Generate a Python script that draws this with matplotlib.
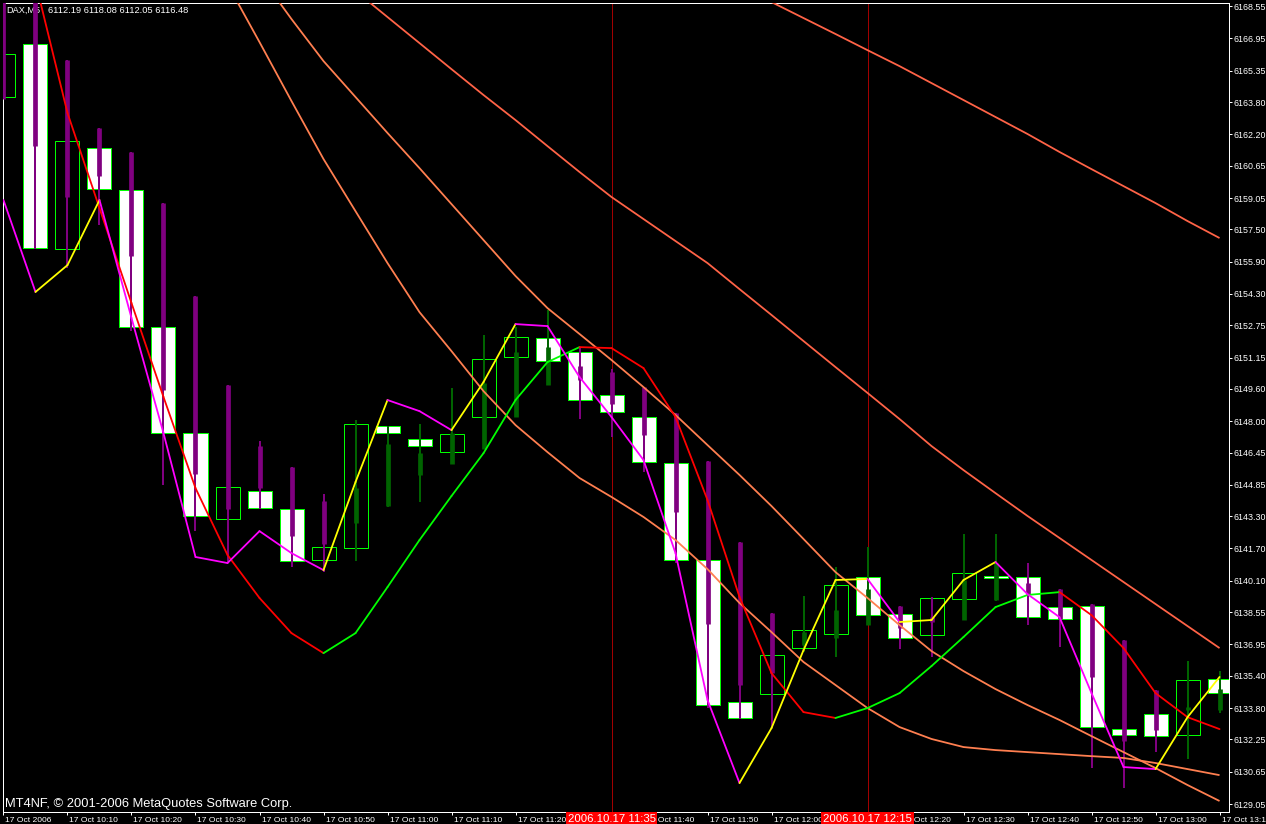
import matplotlib
matplotlib.use("Agg")
import matplotlib.pyplot as plt
import matplotlib.transforms as mtransforms
from matplotlib.patches import Rectangle
import numpy as np

# ---------------- data ----------------
symbol_title = "DAX,M5"
last_ohlc = "6112.19 6118.08 6112.05 6116.48"
copyright_text = "MT4NF, \u00a9 2001-2006 MetaQuotes Software Corp."

time_labels = ["17 Oct 2006", "17 Oct 10:10", "17 Oct 10:20", "17 Oct 10:30", "17 Oct 10:40",
               "17 Oct 10:50", "17 Oct 11:00", "17 Oct 11:10", "17 Oct 11:20", "17 Oct 11:30",
               "17 Oct 11:40", "17 Oct 11:50", "17 Oct 12:00", "17 Oct 12:10", "17 Oct 12:20",
               "17 Oct 12:30", "17 Oct 12:40", "17 Oct 12:50", "17 Oct 13:00", "17 Oct 13:10"]
time_label_bars = list(range(0, 39, 2))

marker_bars = [19, 27]
marker_labels = ["2006.10.17 11:35", "2006.10.17 12:15"]

price_ticks = [6168.55, 6166.95, 6165.35, 6163.80, 6162.20, 6160.65, 6159.05, 6157.50, 6155.90,
               6154.30, 6152.75, 6151.15, 6149.60, 6148.00, 6146.45, 6144.85, 6143.30, 6141.70,
               6140.10, 6138.55, 6136.95, 6135.40, 6133.80, 6132.25, 6130.65, 6129.05]

candle_open = [6164.05, 6166.67, 6156.52, 6161.52, 6159.44, 6152.66, 6147.41, 6143.16, 6144.54, 6143.65,
               6141.13, 6141.72, 6147.76, 6147.12, 6146.47, 6148.21, 6151.18, 6152.12, 6151.42, 6149.30,
               6148.21, 6145.93, 6141.13, 6134.10, 6134.49, 6136.77, 6137.46, 6140.29, 6138.45, 6137.41,
               6139.20, 6140.34, 6140.29, 6138.80, 6138.85, 6132.76, 6133.50, 6132.46, 6135.24]
candle_close = [6166.18, 6156.57, 6161.87, 6159.49, 6152.66, 6147.41, 6143.31, 6144.74, 6143.70, 6141.08,
                6141.77, 6147.86, 6147.41, 6146.77, 6147.36, 6151.08, 6152.17, 6150.98, 6149.05, 6148.45,
                6145.98, 6141.13, 6133.95, 6133.31, 6136.42, 6137.66, 6139.89, 6138.40, 6137.27, 6139.25,
                6140.48, 6140.24, 6138.31, 6138.21, 6132.86, 6132.46, 6132.41, 6135.19, 6134.54]

ha_open = [6169.35, 6169.10, 6165.88, 6162.51, 6161.33, 6158.80, 6154.20, 6149.79, 6146.77, 6145.73,
           6144.05, 6142.96, 6143.80, 6145.34, 6145.88, 6146.62, 6148.21, 6149.79, 6150.73, 6150.43,
           6149.69, 6148.40, 6146.03, 6142.02, 6138.50, 6136.92, 6137.27, 6137.91, 6138.85, 6138.30,
           6138.16, 6139.15, 6139.99, 6139.69, 6138.95, 6137.17, 6134.69, 6133.70, 6133.70]
ha_close = [6163.95, 6161.62, 6159.10, 6160.14, 6156.18, 6149.54, 6145.38, 6143.65, 6144.69, 6142.32,
            6141.92, 6144.69, 6146.87, 6146.42, 6147.41, 6149.89, 6151.42, 6151.67, 6150.04, 6148.85,
            6147.32, 6143.50, 6137.96, 6134.94, 6135.53, 6137.56, 6138.65, 6139.69, 6137.76, 6138.06,
            6140.14, 6140.98, 6139.44, 6138.21, 6135.34, 6132.17, 6132.71, 6133.85, 6134.74]
ha_high = [6169.35, 6169.10, 6165.88, 6162.51, 6161.33, 6158.80, 6154.20, 6149.79, 6147.02, 6145.73,
           6144.40, 6148.06, 6147.76, 6147.86, 6149.64, 6152.27, 6152.66, 6153.50, 6151.67, 6150.58,
           6149.69, 6148.40, 6146.03, 6142.02, 6138.50, 6139.35, 6140.78, 6141.77, 6138.85, 6139.30,
           6142.41, 6142.41, 6140.98, 6139.69, 6138.95, 6137.17, 6134.69, 6136.13, 6135.63]
ha_low = [6163.95, 6156.52, 6155.58, 6157.71, 6152.46, 6144.84, 6142.56, 6140.98, 6143.65, 6140.78,
          6140.53, 6141.08, 6143.75, 6144.00, 6145.88, 6146.62, 6148.21, 6149.79, 6148.11, 6147.22,
          6145.48, 6140.98, 6133.80, 6133.26, 6132.81, 6136.57, 6136.33, 6137.91, 6136.72, 6136.33,
          6138.16, 6139.10, 6137.91, 6136.82, 6130.83, 6129.84, 6131.62, 6131.28, 6133.55]

fast_ma = [6158.95, 6154.40, 6155.73, 6158.95, 6153.11, 6147.41, 6141.28, 6140.98, 6142.56, 6141.47,
           6140.63, 6144.99, 6149.05, 6148.50, 6147.56, 6149.94, 6152.81, 6152.71, 6150.19, 6148.21,
           6146.08, 6141.47, 6134.20, 6130.09, 6132.81, 6136.67, 6140.14, 6140.19, 6138.06, 6138.16,
           6140.14, 6141.03, 6139.44, 6138.30, 6134.54, 6130.88, 6130.78, 6133.35, 6135.34]
fast_ma_up = [False, True, True, False, False, False, False, False, False, False,
              True, True, False, False, True, True, False, False, False, False,
              False, False, False, True, True, True, True, False, True, True,
              True, False, False, False, False, False, True, True]

slow_ma = [np.nan, 6169.74, 6163.26, 6158.55, 6153.85, 6149.20, 6144.69, 6141.38, 6139.25, 6137.51,
           6136.52, 6137.51, 6139.79, 6142.12, 6144.30, 6146.42, 6149.05, 6150.93, 6151.67, 6151.62,
           6150.63, 6148.21, 6144.10, 6139.30, 6135.53, 6133.60, 6133.31, 6133.80, 6134.54, 6135.88,
           6137.32, 6138.80, 6139.40, 6139.54, 6138.40, 6136.77, 6134.54, 6133.35, 6132.76]

curve_a_start = 23
curve_a = [6169.54, 6168.75, 6167.96, 6167.17, 6166.37, 6165.58, 6164.74, 6163.90, 6163.06, 6162.22,
           6161.33, 6160.48, 6159.64, 6158.80, 6157.91, 6157.07]
curve_b_start = 11
curve_b = [6169.30, 6168.01, 6166.72, 6165.43, 6164.15, 6162.91, 6161.62, 6160.34, 6159.10, 6158.01,
           6156.92, 6155.83, 6154.54, 6153.26, 6151.97, 6150.68, 6149.40, 6148.11, 6146.77, 6145.58,
           6144.44, 6143.31, 6142.22, 6141.13, 6140.04, 6138.95, 6137.86, 6136.77]
curve_c_start = 8
curve_c = [6170.09, 6167.91, 6165.83, 6164.05, 6162.27, 6160.53, 6158.75, 6156.97, 6155.19, 6153.60,
           6152.32, 6151.03, 6149.69, 6148.31, 6146.82, 6145.34, 6143.80, 6142.17, 6140.53, 6139.25,
           6137.91, 6136.62, 6135.63, 6134.74, 6133.95, 6133.21, 6132.41, 6131.62, 6130.83, 6129.99,
           6129.20]
curve_d_start = 7
curve_d = [6169.64, 6166.77, 6163.85, 6160.98, 6158.40, 6155.83, 6153.40, 6151.47, 6149.49, 6147.81,
           6146.47, 6145.19, 6144.25, 6143.26, 6142.12, 6140.68, 6139.00, 6137.56, 6136.08, 6134.94,
           6133.80, 6132.86, 6132.27, 6131.87, 6131.72, 6131.62, 6131.52, 6131.42, 6131.33, 6131.08,
           6130.78, 6130.48]

# ---------------- styles ----------------
BG = "black"
FG = "white"
BOX_EDGE = "#00FF00"
HA_DOWN = "#800080"
HA_UP = "#006400"
FAST_UP = "#FFFF00"
FAST_DN = "#FF00FF"
SLOW_UP = "#00FF00"
SLOW_DN = "#FF0000"
CURVE_COL = "#FF7F50"
CURVE_COL2 = "#FF6347"
FONT = "Liberation Sans"
PX = 0.72  # points per pixel at 100 dpi

plt.rcParams["font.family"] = [FONT, "DejaVu Sans"]

fig = plt.figure(figsize=(12.66, 8.24), dpi=100, facecolor=BG)
ax = fig.add_axes([2.5 / 1266, 12.5 / 824, 1226 / 1266, 809 / 824])
ax.set_facecolor(BG)
ax.set_xlim(-0.031, 38.28)
ax.set_ylim(6128.68, 6168.73)

n = len(candle_open)
bars = np.arange(n)

# marker vertical lines
for b in marker_bars:
    ax.axvline(b, color="#A00000", lw=1 * PX, zorder=1, antialiased=False)

# title text (behind the candles)
ax.text(0.0034, 0.9899, symbol_title, transform=ax.transAxes, color=FG, fontsize=6.6,
        va="center", ha="left", zorder=1.5)
ax.text(0.0372, 0.9899, last_ohlc, transform=ax.transAxes, color=FG, fontsize=6.7,
        va="center", ha="left", zorder=1.5)

# standard candle bodies (wide boxes)
bw = 0.75
for i in range(n):
    o, c = candle_open[i], candle_close[i]
    bear = c < o
    rect = Rectangle((i - bw / 2, min(o, c)), bw, abs(c - o),
                     facecolor=("white" if bear else "none"), edgecolor=BOX_EDGE,
                     lw=1 * PX, zorder=2)
    ax.add_patch(rect)

# Heiken Ashi narrow candles
ha_cols = [HA_DOWN if ha_close[i] < ha_open[i] else HA_UP for i in range(n)]
ax.vlines(bars, ha_low, ha_high, colors=ha_cols, lw=2 * PX, zorder=3, capstyle="butt")
ax.vlines(bars, np.minimum(ha_open, ha_close), np.maximum(ha_open, ha_close),
          colors=ha_cols, lw=4.7 * PX, zorder=3.1, capstyle="butt")

# envelope-like curves
for start, vals, col in [(curve_a_start, curve_a, CURVE_COL2), (curve_b_start, curve_b, CURVE_COL2),
                         (curve_c_start, curve_c, CURVE_COL), (curve_d_start, curve_d, CURVE_COL)]:
    xs = np.arange(start, start + len(vals))
    ax.plot(xs, vals, color=col, lw=1.8 * PX, zorder=4, solid_capstyle="butt")

# slow line (red / green by slope)
for i in range(n - 1):
    a, b = slow_ma[i], slow_ma[i + 1]
    if np.isnan(a) or np.isnan(b):
        continue
    ax.plot([i, i + 1], [a, b], color=(SLOW_UP if b > a else SLOW_DN), lw=1.8 * PX, zorder=5,
            solid_capstyle="round")

# fast line (yellow / magenta by trend flag)
for i in range(n - 1):
    ax.plot([i, i + 1], [fast_ma[i], fast_ma[i + 1]],
            color=(FAST_UP if fast_ma_up[i] else FAST_DN), lw=1.8 * PX, zorder=5.5,
            solid_capstyle="round")

# spines
for side in ["left", "right", "top", "bottom"]:
    ax.spines[side].set_color(FG)
    ax.spines[side].set_linewidth(1 * PX)

# y axis on right
ax.yaxis.tick_right()
ax.set_yticks(price_ticks)
ax.set_yticklabels([f"{p:.2f}" for p in price_ticks])
ax.tick_params(axis="y", colors=FG, length=3 * PX, width=1 * PX, pad=1.5, labelsize=6.4,
               labelcolor=FG)

# x axis
ax.set_xticks(time_label_bars)
ax.set_xticklabels(time_labels, ha="left")
ax.tick_params(axis="x", colors=FG, length=3 * PX, width=1 * PX, pad=1.5, labelsize=6.1,
               labelcolor=FG)
offset = mtransforms.ScaledTranslation(2 / 100, 0, fig.dpi_scale_trans)
for lab in ax.get_xticklabels():
    lab.set_transform(lab.get_transform() + offset)

# copyright
ax.text(0.002, 0.0095, copyright_text, transform=ax.transAxes, color=FG, fontsize=9.3,
        va="center", ha="left", zorder=6)

# red marker labels on time axis
blend = mtransforms.blended_transform_factory(ax.transData, ax.transAxes)
for b, lab in zip(marker_bars, marker_labels):
    ax.text(b, -0.0035, lab, transform=blend, ha="center", va="top", color="white",
            fontsize=8.2, clip_on=False, zorder=20,
            bbox=dict(facecolor="#FF0000", edgecolor="none", pad=1.4))

fig.savefig("out.png", dpi=100, facecolor=BG)
